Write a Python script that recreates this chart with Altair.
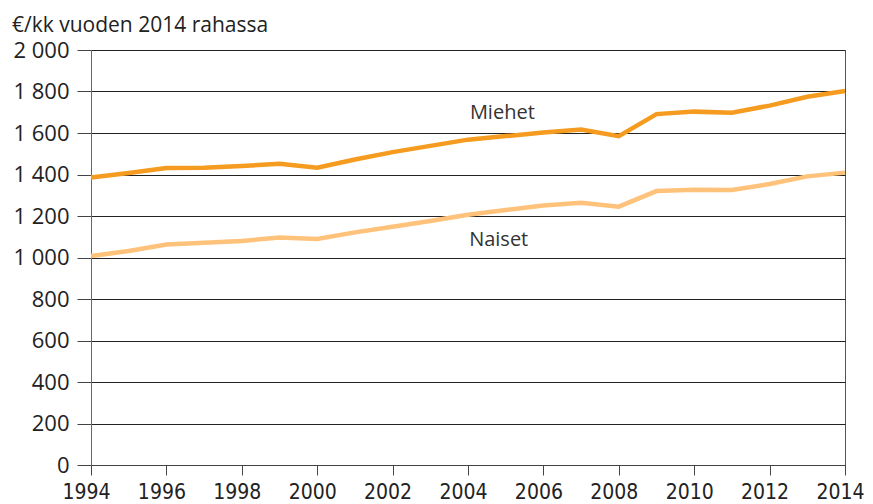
import altair as alt
import pandas as pd

years = list(range(1994, 2015))
miehet = [1386, 1407, 1431, 1433, 1441, 1452, 1433, 1472, 1508, 1538, 1568, 1585, 1602, 1617,
          1585, 1691, 1703, 1698, 1732, 1775, 1802]
naiset = [1007, 1031, 1063, 1071, 1080, 1096, 1089, 1121, 1148, 1176, 1206, 1229, 1251, 1264,
          1245, 1320, 1327, 1325, 1354, 1391, 1409]
series_names = ["Miehet", "Naiset"]
series_colors = ["#F59B1F", "#FFC27A"]
label_years = [2004.05, 2004.03]
label_values = [1696, 1084]
title_text = "€/kk vuoden 2014 rahassa"

df = pd.DataFrame({
    "year": years * 2,
    "value": miehet + naiset,
    "series": ["Miehet"] * len(years) + ["Naiset"] * len(years),
})
labels = pd.DataFrame({"year": label_years, "value": label_values, "series": series_names})

FONT = "Open Sans"
XFONT = "DejaVu Sans Condensed, Open Sans, sans-serif"

x = alt.X("year:Q", scale=alt.Scale(domain=[1994, 2014], nice=False, zero=False),
          axis=alt.Axis(values=years, title=None, grid=False, ticks=True,
                        labelExpr="datum.value % 2 == 0 ? format(datum.value, 'd') : ''",
                        tickSize=10, tickColor="#444", tickWidth=1, domainColor="#444",
                        labelFontSize=21, labelFont=XFONT, labelBaseline="top",
                        labelOffset=-5,
                        labelColor="#222", labelPadding=6, labelFlush=False, labelOverlap=False))
y = alt.Y("value:Q", scale=alt.Scale(domain=[0, 2000], nice=False),
          axis=alt.Axis(values=list(range(0, 2001, 200)), title=None, grid=True, ticks=True,
                        gridColor="#222", gridWidth=1, gridOpacity=1,
                        labelExpr="replace(format(datum.value, ','), ',', ' ')",
                        tickSize=14, tickColor="#444", tickWidth=1, domainColor="#666",
                        labelFontSize=22, labelFont=FONT, labelColor="#222",
                        labelPadding=8))
color = alt.Color("series:N", scale=alt.Scale(domain=series_names, range=series_colors),
                  legend=None)

lines = alt.Chart(df).mark_line(strokeWidth=4.5, strokeCap="butt").encode(x=x, y=y, color=color)
text = alt.Chart(labels).mark_text(align="left", baseline="middle", fontSize=20,
                                   font=FONT, color="#333").encode(
    x=alt.X("year:Q"), y=alt.Y("value:Q"), text="series:N")

chart = alt.layer(lines, text).properties(
    width=754, height=415,
    title=alt.TitleParams(title_text, anchor="start", frame="group", dx=-79, fontSize=21,
                          font=FONT, fontWeight="normal", color="#222", offset=3),
    autosize=alt.AutoSizeParams(type="none"),
    padding={"left": 83, "top": 42, "right": 20, "bottom": 38},
).configure_view(stroke="#555", strokeWidth=1)

chart.save("out.html", embed_options={"renderer": "svg", "actions": False})
